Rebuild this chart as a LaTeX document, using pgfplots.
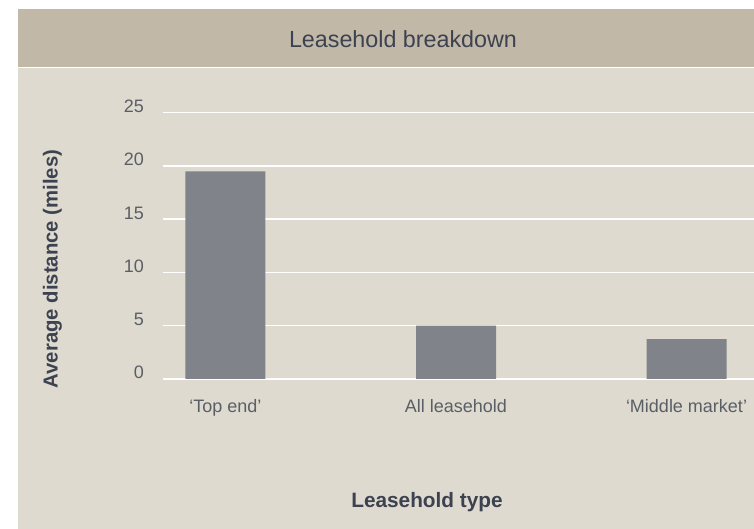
\documentclass[border=0pt]{standalone}
\usepackage{fontspec}
\setmainfont{Liberation Sans}
\usepackage{pgfplots}
\pgfplotsset{compat=1.18}
\definecolor{band}{HTML}{C1B8A7}
\definecolor{panel}{HTML}{DEDACF}
\definecolor{barc}{HTML}{808389}
\definecolor{titlec}{HTML}{3C4250}
\definecolor{tickc}{HTML}{5A5E65}
\begin{document}
\begin{tikzpicture}[x=1pt,y=1pt]
\fill[white] (0,0) rectangle (754,529);
\useasboundingbox (0,0) rectangle (754,529);
\fill[panel] (18,0) rectangle (754,461);
\fill[band] (18,462.3) rectangle (754,520);
\node[anchor=base,inner sep=0pt,text=titlec,font=\fontsize{23.3}{26}\selectfont] at (403,481.7) {Leasehold breakdown};
\node[anchor=base,inner sep=0pt,text=titlec,font=\fontsize{20.8}{24}\selectfont\bfseries] at (427,21.7) {Leasehold type};
\node[rotate=90,inner sep=0pt,text=titlec,font=\fontsize{20.3}{24}\selectfont\bfseries] at (52.5,260) {Average distance (miles)};
\begin{axis}[
  at={(163pt,150pt)}, anchor=south west,
  scale only axis, width=591pt, height=266.3pt,
  ybar, bar width=80pt, bar shift=0pt,
  xmin=-0.2711, xmax=2.2928,
  ymin=0, ymax=25,
  xtick={0,1,2},
  xticklabels={‘Top end’, All leasehold, ‘Middle market’},
  ytick={0,5,10,15,20,25},
  axis line style={draw=none},
  major tick length=0pt,
  ymajorgrids, grid style={white, line width=1.5pt},
  /pgf/number format/assume math mode=true,
  xticklabel style={anchor=base, inner sep=0pt, yshift=-34pt, text=tickc, font=\fontsize{18}{20}\selectfont},
  yticklabel style={anchor=base east, inner sep=0pt, xshift=-19pt, text=tickc, font=\fontsize{18}{20}\selectfont},
  clip=false,
]
\addplot[fill=barc, draw=none] coordinates {(0,19.5) (1,5.0) (2,3.75)};
\end{axis}
\end{tikzpicture}
\end{document}
